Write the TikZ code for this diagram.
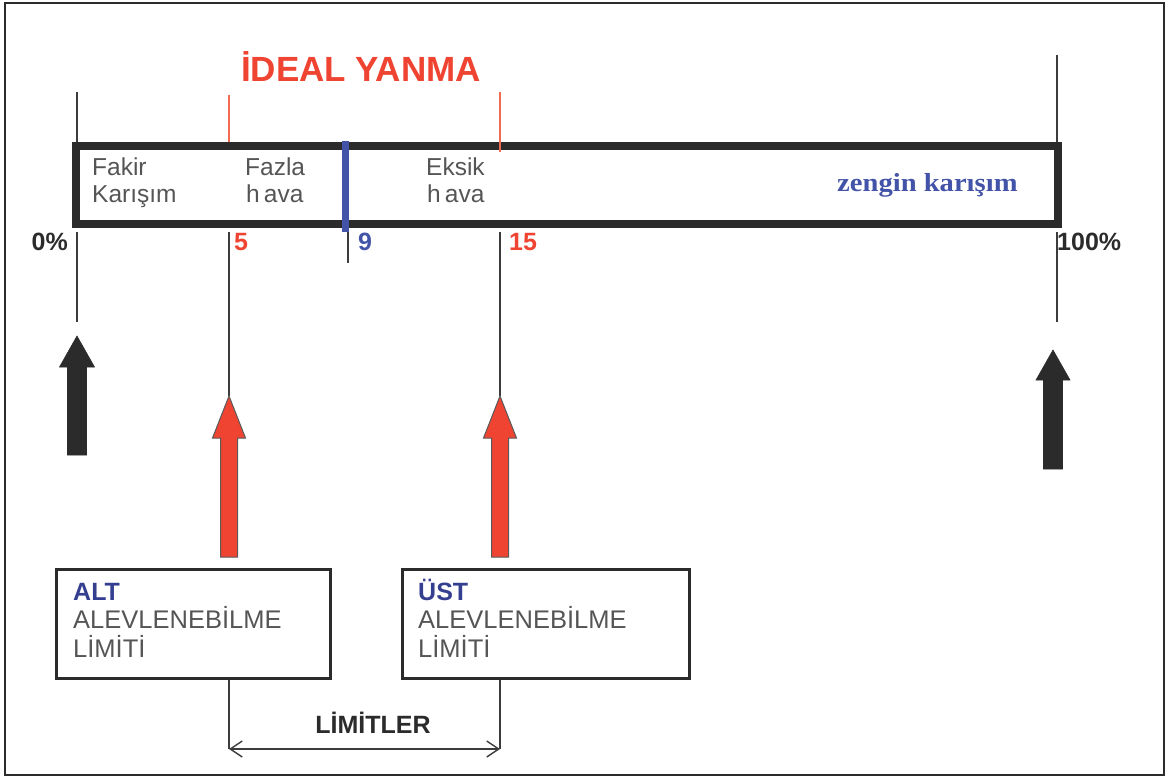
\documentclass[tikz,border=0pt]{standalone}
\usepackage{fontspec}
\setmainfont{Liberation Sans}
\newfontfamily\serifface{Liberation Serif}
\usetikzlibrary{arrows.meta}

\definecolor{ink}{HTML}{2B2B2B}
\definecolor{flame}{HTML}{EE4431}
\definecolor{flameline}{HTML}{F26A4F}
\definecolor{rich}{HTML}{4253A8}
\definecolor{deepblue}{HTML}{34408F}
\definecolor{softgray}{HTML}{555555}
\definecolor{tickgray}{HTML}{3C3C3C}

% filled block arrow pointing up: style, x, tip y, base y, shaft half-width, head half-width, head length
\newcommand{\blockarrow}[7]{%
  \filldraw[#1] (#2-#5,#4) -- (#2-#5,#3+#7) -- (#2-#6,#3+#7) -- (#2,#3)
    -- (#2+#6,#3+#7) -- (#2+#5,#3+#7) -- (#2+#5,#4) -- cycle;}

\tikzset{
  tickline/.style={draw=tickgray, line width=1.4pt},
  hotline/.style={draw=flameline, line width=1.3pt},
  bartext/.style={font=\fontsize{24.5}{27}\selectfont, text=softgray, anchor=base west, inner sep=0pt},
  numlabel/.style={font=\fontsize{25}{28}\selectfont\bfseries, inner sep=0pt},
  limbox/.style={draw=ink, line width=3pt, minimum height=109pt, inner sep=0pt},
  boxtext/.style={font=\fontsize{25.5}{28}\selectfont, text=softgray, anchor=base west, inner sep=0pt},
  boxhead/.style={font=\fontsize{25}{28}\selectfont\bfseries, text=deepblue, anchor=base west, inner sep=0pt},
  blackarrow/.style={fill=ink, draw=ink, line width=0.6pt},
  redarrow/.style={fill=flame, draw=black!65, line width=1pt},
}

\begin{document}
\begin{tikzpicture}[x=1pt, y=-1pt]
\useasboundingbox (0,0) rectangle (1175,778);

% outer frame
\draw[line width=2.5pt, ink] (5,3) rectangle (1164,775);

% title
\node[font=\fontsize{35}{40}\selectfont\bfseries, text=flame, anchor=base, inner sep=0pt]
  (title) at (361,82) {İDEAL YANMA};

% scale positions
\coordinate (z0top) at (77,92);     \coordinate (z0bot) at (77,322);
\coordinate (l5top) at (229,95);    \coordinate (l5tip) at (229,396);
\coordinate (s9bot) at (348,263);
\coordinate (u15top) at (500,92);   \coordinate (u15tip) at (500,396);
\coordinate (h100top) at (1057,55); \coordinate (h100bot) at (1057,322);

% ticks above the bar
\draw[tickline] (z0top) -- (77,142);
\draw[hotline] (l5top) -- (229,142);
\draw[tickline] (h100top) -- (1057,142);

% mixture bar
\node[draw=ink, line width=8pt, minimum width=982pt, minimum height=78pt, inner sep=0pt]
  (bar) at (567,185) {};
\draw[hotline] (u15top) -- (500,152);

% ideal point (9)
\coordinate (s9top) at (345,141);
\coordinate (s9low) at (345,232);
\draw[rich, line width=7pt] (s9top) -- (s9low);

% text inside the bar
\node[bartext] (fakir1) at (92,176) {Fakir};
\node[bartext] (fakir2) at (92,203) {Karışım};
\node[bartext] (fazla1) at (245,176) {Fazla};
\node[bartext] (fazla2) at (246,203) {h\,ava};
\node[bartext] (eksik1) at (426,176) {Eksik};
\node[bartext] (eksik2) at (427,203) {h\,ava};
\node[font=\serifface\bfseries\fontsize{26}{28}\selectfont, text=rich, anchor=base west,
      inner sep=0pt, xscale=1.1] (zengin) at (837,192) {zengin karışım};

% ticks below the bar
\draw[tickline] (77,232) -- (z0bot);
\draw[tickline] (229,232) -- (l5tip);
\draw[tickline] (348,232) -- (s9bot);
\draw[tickline] (500,232) -- (u15tip);
\draw[tickline] (1057,232) -- (h100bot);

% scale numbers
\node[numlabel, text=ink, anchor=base east] (p0) at (68,251) {0\%};
\node[numlabel, text=flame, anchor=base west] (p5) at (234,251) {5};
\node[numlabel, text=rich, anchor=base west] (p9) at (358,251) {9};
\node[numlabel, text=flame, anchor=base west] (p15) at (509,251) {15};
\node[numlabel, text=ink, anchor=base west] (p100) at (1057,251) {100\%};

% block arrows
\blockarrow{blackarrow}{77}{336}{455}{9.5}{17.5}{31}
\blockarrow{blackarrow}{1053}{350}{469}{9.5}{17}{30}
\blockarrow{redarrow}{229}{396}{557}{8.5}{16.5}{42}
\blockarrow{redarrow}{500}{396}{557}{8.5}{16.5}{42}

% limit boxes
\node[limbox, minimum width=274pt] (alt) at (193,623.5) {};
\node[boxhead] (althead) at (73,600) {ALT};
\node[boxtext] (alt2) at (73,628) {ALEVLENEBİLME};
\node[boxtext] (alt3) at (73,657) {LİMİTİ};

\node[limbox, minimum width=287pt] (ust) at (545.5,623.5) {};
\node[boxhead] (usthead) at (418,600) {ÜST};
\node[boxtext] (ust2) at (418,628) {ALEVLENEBİLME};
\node[boxtext] (ust3) at (418,657) {LİMİTİ};

% range between the limits
\coordinate (dimL) at (229,749);
\coordinate (dimR) at (500,749);
\draw[tickline] (alt.south -| dimL) -- (dimL);
\draw[tickline] (ust.south -| dimR) -- (dimR);
\draw[tickline, {Straight Barb[length=12pt,width=16pt]}-{Straight Barb[length=12pt,width=16pt]}]
  (dimL) -- (dimR);
\node[font=\fontsize{25}{28}\selectfont\bfseries, text=ink, anchor=base, inner sep=0pt]
  (limitler) at (373,733) {LİMİTLER};
\end{tikzpicture}
\end{document}
